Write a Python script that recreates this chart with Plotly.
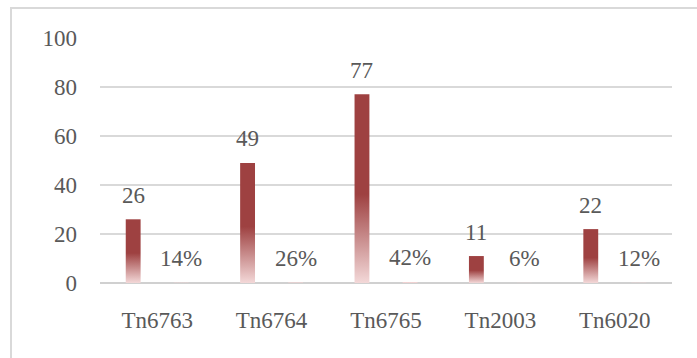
import plotly.graph_objects as go

categories = ["Tn6763", "Tn6764", "Tn6765", "Tn2003", "Tn6020"]
counts = [26, 49, 77, 11, 22]
percents = [14, 26, 42, 6, 12]          # percent values (plotted as fractions)
y_ticks = [0, 20, 40, 60, 80, 100]

BAR_W = 0.13
OFFSET = 0.21
FONT = "Liberation Serif"
FS = 23
TXT = "#595959"
GRAD = [[0, "#F3D8D8"], [0.47, "#9E4141"], [1, "#9E4141"]]

fig = go.Figure()

def add_bar(xc, val, stop):
    x0, x1 = xc - BAR_W / 2, xc + BAR_W / 2
    fig.add_trace(go.Scatter(
        x=[x0, x1, x1, x0, x0], y=[0, 0, val, val, 0],
        mode="none", fill="toself",
        fillgradient=dict(type="vertical", colorscale=GRAD, start=0, stop=stop),
        showlegend=False, hoverinfo="skip"))

for i, v in enumerate(counts):
    add_bar(i - OFFSET, v, v)
for i, p in enumerate(percents):
    add_bar(i + OFFSET, p / 100, 10)

annotations = []
for i, v in enumerate(counts):
    annotations.append(dict(x=i - OFFSET, y=v, text=str(v), showarrow=False,
                            yshift=24, yanchor="middle", xanchor="center",
                            font=dict(family=FONT, size=FS, color=TXT)))
for i, p in enumerate(percents):
    annotations.append(dict(x=i + OFFSET, y=p / 100, text=f"{p}%", showarrow=False,
                            yshift=24, yanchor="middle", xanchor="center",
                            font=dict(family=FONT, size=FS, color=TXT)))

fig.update_layout(
    width=697, height=358,
    margin=dict(l=100, r=25, t=38, b=75),
    paper_bgcolor="white", plot_bgcolor="white",
    font=dict(family=FONT, size=FS, color=TXT),
    annotations=annotations,
    xaxis=dict(range=[-0.5, 4.5], tickvals=list(range(len(categories))),
               ticktext=categories, showgrid=False, zeroline=False,
               showline=False, ticks="", ticklabelstandoff=21,
               tickfont=dict(family=FONT, size=FS, color=TXT), fixedrange=True),
    yaxis=dict(range=[0, 100], tickvals=y_ticks, showgrid=True,
               gridcolor="#D9D9D9", gridwidth=2, zeroline=True,
               zerolinecolor="#D0D0D0", zerolinewidth=2, showline=False,
               ticks="", ticklabelstandoff=22,
               tickfont=dict(family=FONT, size=FS, color=TXT), fixedrange=True),
    shapes=[dict(type="rect", xref="paper", yref="paper",
                 x0=-0.1556, x1=1.06, y0=-0.34, y1=1.1224,
                 line=dict(color="#D9D9D9", width=2), layer="below")],
)

fig.write_html("out.html")
